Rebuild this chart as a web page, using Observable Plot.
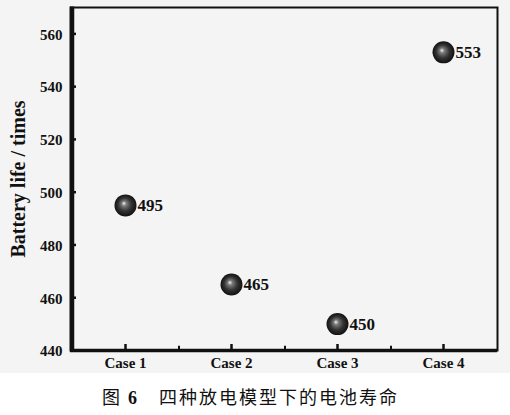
<!DOCTYPE html>
<html>
<head>
<meta charset="utf-8">
<script src="https://cdn.jsdelivr.net/npm/d3@7"></script>
<script src="https://cdn.jsdelivr.net/npm/@observablehq/plot@0.6"></script>
<style>
  html, body { margin: 0; padding: 0; background: #ffffff; }
  #chart svg { display: block; background: #f4f4f4; }
  #caption { font-family: "Noto Sans CJK SC", sans-serif; font-size: 18px; letter-spacing: 2px; text-align: left; padding-left: 102px; margin-top: 10px; color: #111; }
  #caption .num { font-family: "Liberation Serif", serif; font-weight: bold; }
</style>
</head>
<body>
<div id="chart"></div>
<div id="caption">图 <span class="num">6</span>　四种放电模型下的电池寿命</div>
<script>
const cases = ["Case 1", "Case 2", "Case 3", "Case 4"];
const life = [495, 465, 450, 553];
const yTicks = [440, 460, 480, 500, 520, 540, 560];
const yMinor = [450, 470, 490, 510, 530, 550, 570];
const yLabel = "Battery life / times";

const data = cases.map((c, i) => ({case: c, life: life[i]}));

const serif = "'Liberation Serif', 'Times New Roman', serif";
const ink = "#111";

const plot = Plot.plot({
  width: 510,
  height: 373,
  marginTop: 7,
  marginBottom: 23,
  marginLeft: 70,
  marginRight: 13,
  style: {fontFamily: serif, fontWeight: "bold", color: ink, background: "#f4f4f4"},
  x: {type: "point", domain: cases, padding: 0.5},
  y: {domain: [440, 570]},
  marks: [
    Plot.axisY({ticks: yTicks, tickSize: -6, text: null, strokeWidth: 2.5, label: null}),
    Plot.axisY({ticks: yMinor, tickSize: -4, text: null, strokeWidth: 2, label: null}),
    Plot.axisX({ticks: cases, tickSize: -6, text: null, strokeWidth: 2.5, label: null}),
    Plot.ruleX(cases.slice(0, 3), {x: d => d, y1: 440, y2: 441.6, dx: 53.5, stroke: ink, strokeWidth: 2}),
    Plot.text(yTicks, {y: d => d, text: d => String(d), frameAnchor: "left", textAnchor: "end", dx: -8, dy: 1, fontSize: 15, fontWeight: "bold", fontFamily: serif, fill: ink}),
    Plot.text(cases, {x: d => d, text: d => d, frameAnchor: "bottom", lineAnchor: "top", dy: 7, fontSize: 15, fontWeight: "bold", fontFamily: serif, fill: ink}),
    Plot.text([yLabel], {frameAnchor: "left", textAnchor: "middle", dx: -52, rotate: -90, fontSize: 20, fontWeight: "bold", fontFamily: serif, fill: ink}),
    Plot.ruleY([440], {stroke: ink, strokeWidth: 3.5}),
    Plot.ruleX([cases[0]], {stroke: ink, strokeWidth: 3.5, dx: -53}),
    Plot.frame({stroke: ink, strokeWidth: 2}),
    Plot.dot(data, {x: "case", y: "life", r: 11, fill: "url(#sphere)", stroke: "none"}),
    Plot.text(data, {x: "case", y: "life", text: d => String(d.life), dx: 12, textAnchor: "start", fontSize: 17, fontWeight: "bold", fontFamily: serif, fill: ink})
  ]
});

const svg = d3.select(plot);
const defs = svg.insert("defs", ":first-child");
const g = defs.append("radialGradient").attr("id", "sphere")
  .attr("cx", "0.5").attr("cy", "0.5").attr("r", "0.5")
  .attr("fx", "0.42").attr("fy", "0.4");
g.append("stop").attr("offset", "0%").attr("stop-color", "#f2f2f2");
g.append("stop").attr("offset", "22%").attr("stop-color", "#7a7a7a");
g.append("stop").attr("offset", "60%").attr("stop-color", "#333333");
g.append("stop").attr("offset", "100%").attr("stop-color", "#111111");

document.getElementById("chart").appendChild(plot);
</script>
</body>
</html>
